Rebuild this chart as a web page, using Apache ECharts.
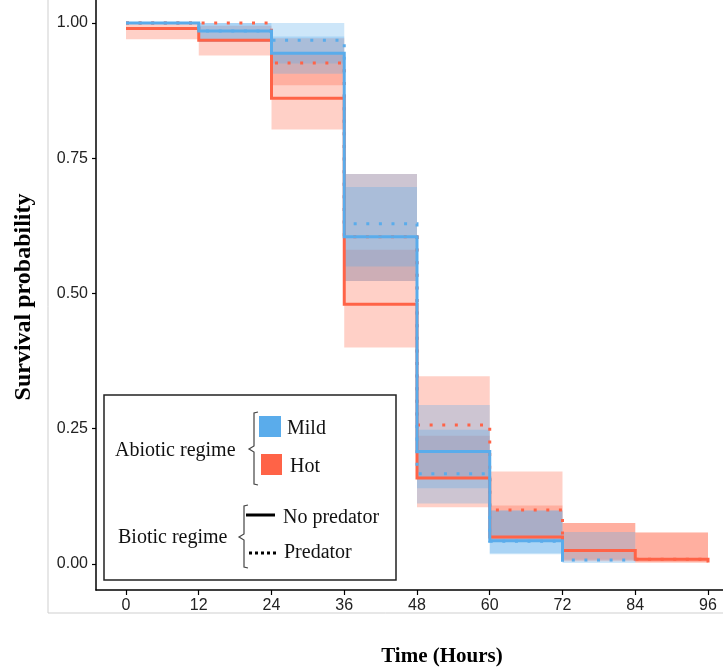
<!DOCTYPE html>
<html>
<head>
<meta charset="utf-8">
<script src="https://cdn.jsdelivr.net/npm/echarts@6/dist/echarts.min.js"></script>
<style>
html,body{margin:0;padding:0;background:#fff;}
#chart{width:723px;height:670px;}
</style>
</head>
<body>
<div id="chart"></div>
<script>
// ---- data ----
const hours = [0, 12, 24, 36, 48, 60, 72, 84, 96];
const yTicks = [0, 0.25, 0.5, 0.75, 1];

// survival estimates at each step start (hours[i])
const mildNoPred = [1.0, 0.985, 0.944, 0.605, 0.208, 0.043, 0.004];
const mildPred   = [1.0, 0.985, 0.968, 0.629, 0.167, 0.042, 0.0074, 0.0074];
const hotNoPred  = [0.99, 0.968, 0.861, 0.48, 0.159, 0.05, 0.025, 0.0086, 0.003];
const hotPred    = [1.0, 1.0, 0.926, 0.605, 0.257, 0.10, 0.025, 0.0086, 0.0086];

// confidence bands per interval [hours[i], hours[i+1]]
const mildNoPredLo = [1.0, 0.965, 0.906, 0.523, 0.14, 0.02];
const mildNoPredHi = [1.0, 1.0, 0.975, 0.697, 0.294, 0.099];
const mildPredLo   = [1.0, 0.965, 0.925, 0.55, 0.112, 0.018, 0.002];
const mildPredHi   = [1.0, 1.0, 1.0, 0.721, 0.248, 0.099, 0.059];
const hotNoPredLo  = [0.97, 0.94, 0.803, 0.40, 0.105, 0.045, 0.008, 0.003];
const hotNoPredHi  = [1.0, 0.995, 0.943, 0.581, 0.237, 0.108, 0.076, 0.058];
const hotPredLo    = [1.0, 1.0, 0.885, 0.523, 0.16, 0.045, 0.005, 0.003];
const hotPredHi    = [1.0, 1.0, 0.972, 0.721, 0.347, 0.171, 0.076, 0.058];

const BLUE = '#5AACEB';
const RED = '#FF6347';
const BLUE_BAND = 'rgba(90,172,235,0.3)';
const RED_BAND = 'rgba(255,99,71,0.3)';

function stepData(vals) {
  return vals.map((v, i) => [hours[i], v]);
}
function bandData(lo, hi) {
  return lo.map((l, i) => [hours[i], hours[i + 1], l, hi[i]]);
}
function bandSeries(lo, hi, color) {
  return {
    type: 'custom',
    coordinateSystem: 'cartesian2d',
    data: bandData(lo, hi),
    encode: { x: [0, 1], y: [2, 3] },
    silent: true,
    z: 1,
    renderItem: function (params, api) {
      const p0 = api.coord([api.value(0), api.value(3)]);
      const p1 = api.coord([api.value(1), api.value(2)]);
      return {
        type: 'rect',
        shape: { x: p0[0], y: p0[1], width: p1[0] - p0[0], height: p1[1] - p0[1] },
        style: { fill: color }
      };
    }
  };
}
function lineSeries(vals, color, dotted) {
  return {
    type: 'line',
    step: 'end',
    data: stepData(vals),
    symbol: 'none',
    silent: true,
    z: 3,
    lineStyle: {
      color: color,
      width: 3,
      type: dotted ? [3, 9.6] : 'solid',
      cap: 'butt',
      join: 'miter'
    }
  };
}

const chart = echarts.init(document.getElementById('chart'), null, { renderer: 'canvas' });

const serifFont = '"Liberation Serif", "DejaVu Serif", serif';

const option = {
  animation: false,
  backgroundColor: '#ffffff',
  grid: { left: 96, right: 0, top: 0, bottom: 80 },
  xAxis: {
    type: 'value',
    min: -4.948,
    max: 98.474,
    axisLine: { onZero: false, lineStyle: { color: '#000', width: 1.5 } },
    axisTick: { customValues: hours, length: 5, lineStyle: { color: '#000', width: 1.2 } },
    axisLabel: { customValues: hours, fontSize: 16, color: '#222', fontFamily: '"Liberation Sans", Arial, sans-serif', margin: 8 },
    splitLine: { show: false }
  },
  yAxis: {
    type: 'value',
    min: -0.04806,
    max: 1.04251,
    axisLine: { show: true, onZero: false, lineStyle: { color: '#000', width: 1.5 } },
    axisTick: { show: true, customValues: yTicks, length: 4, lineStyle: { color: '#000', width: 1.2 } },
    axisLabel: {
      customValues: yTicks, fontSize: 16, color: '#222',
      fontFamily: '"Liberation Sans", Arial, sans-serif', margin: 8,
      formatter: function (v) { return Number(v).toFixed(2); }
    },
    splitLine: { show: false }
  },
  series: [
    bandSeries(hotNoPredLo, hotNoPredHi, RED_BAND),
    bandSeries(hotPredLo, hotPredHi, RED_BAND),
    bandSeries(mildNoPredLo, mildNoPredHi, BLUE_BAND),
    bandSeries(mildPredLo, mildPredHi, BLUE_BAND),
    lineSeries(hotNoPred, RED, false),
    lineSeries(mildPred, BLUE, true),
    lineSeries(hotPred, RED, true),
    lineSeries(mildNoPred, BLUE, false)
  ],
  graphic: [
    // outer grey frame lines
    { type: 'line', shape: { x1: 48, y1: 0, x2: 48, y2: 613 }, style: { stroke: '#cfcfcf', lineWidth: 1 }, silent: true },
    { type: 'line', shape: { x1: 48, y1: 613, x2: 723, y2: 613 }, style: { stroke: '#cfcfcf', lineWidth: 1 }, silent: true },
    // axis titles
    { type: 'text', x: 442, y: 657, style: { text: 'Time (Hours)', font: 'bold 21px ' + serifFont, fill: '#000', align: 'center', verticalAlign: 'middle' }, silent: true },
    { type: 'text', x: 24, y: 297, rotation: Math.PI / 2, style: { text: 'Survival probability', font: 'bold 24px ' + serifFont, fill: '#000', align: 'center', verticalAlign: 'middle' }, silent: true },
    // legend box
    { type: 'rect', shape: { x: 104, y: 395, width: 292, height: 185 }, style: { fill: 'none', stroke: '#222', lineWidth: 1.5 }, z: 10, silent: true },
    { type: 'text', x: 115, y: 451, style: { text: 'Abiotic regime', font: '20px ' + serifFont, fill: '#111', verticalAlign: 'middle' }, z: 10, silent: true },
    { type: 'polyline', shape: { points: [[258, 412], [254, 413], [254, 446], [249, 449], [254, 452], [254, 484], [258, 485]] }, style: { stroke: '#444', lineWidth: 1.2, fill: 'none' }, z: 10, silent: true },
    { type: 'rect', shape: { x: 259, y: 416, width: 22, height: 21 }, style: { fill: BLUE }, z: 10, silent: true },
    { type: 'text', x: 287, y: 429, style: { text: 'Mild', font: '20px ' + serifFont, fill: '#111', verticalAlign: 'middle' }, z: 10, silent: true },
    { type: 'rect', shape: { x: 261, y: 454, width: 21, height: 21 }, style: { fill: RED }, z: 10, silent: true },
    { type: 'text', x: 290, y: 467, style: { text: 'Hot', font: '20px ' + serifFont, fill: '#111', verticalAlign: 'middle' }, z: 10, silent: true },
    { type: 'text', x: 118, y: 538, style: { text: 'Biotic regime', font: '20px ' + serifFont, fill: '#111', verticalAlign: 'middle' }, z: 10, silent: true },
    { type: 'polyline', shape: { points: [[248, 505], [244, 506], [244, 534], [239, 537], [244, 540], [244, 567], [248, 568]] }, style: { stroke: '#444', lineWidth: 1.2, fill: 'none' }, z: 10, silent: true },
    { type: 'line', shape: { x1: 246, y1: 515, x2: 275, y2: 515 }, style: { stroke: '#000', lineWidth: 3 }, z: 10, silent: true },
    { type: 'text', x: 283, y: 518, style: { text: 'No predator', font: '20px ' + serifFont, fill: '#111', verticalAlign: 'middle' }, z: 10, silent: true },
    { type: 'line', shape: { x1: 249, y1: 553, x2: 279, y2: 553 }, style: { stroke: '#000', lineWidth: 3, lineDash: [3, 3] }, z: 10, silent: true },
    { type: 'text', x: 284, y: 553, style: { text: 'Predator', font: '20px ' + serifFont, fill: '#111', verticalAlign: 'middle' }, z: 10, silent: true }
  ]
};
chart.setOption(option);
</script>
</body>
</html>
